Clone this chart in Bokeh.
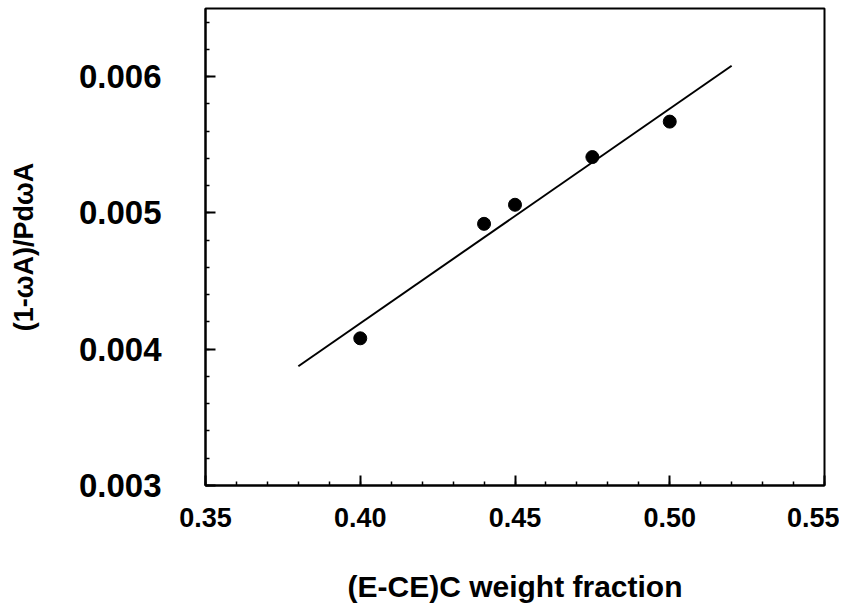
from bokeh.plotting import figure
from bokeh.models import FixedTicker, Range1d
from bokeh.embed import file_html
from bokeh.resources import INLINE

# data
frac = [0.40, 0.44, 0.45, 0.475, 0.50]
ratio = [0.00408, 0.00492, 0.00506, 0.00541, 0.00567]
fit_x = [0.38, 0.52]
fit_y = [0.003875, 0.00608]

x_ticks = [0.35, 0.40, 0.45, 0.50, 0.55]
x_tick_labels = ["0.35", "0.40", "0.45", "0.50", "0.55"]
x_minor = [0.35 + 0.01 * i for i in range(21)]
y_ticks = [0.003, 0.004, 0.005, 0.006]
y_tick_labels = ["0.003", "0.004", "0.005", "0.006"]
y_minor = [0.003 + 0.0002 * i for i in range(18)]

FONT = "Liberation Sans"

p = figure(width=839, height=605, output_backend="svg", toolbar_location=None,
           x_range=Range1d(0.35, 0.55), y_range=Range1d(0.003, 0.0065),
           min_border_left=205, min_border_right=15, min_border_top=8, min_border_bottom=118)
p.background_fill_color = "white"
p.border_fill_color = "white"
p.outline_line_color = "black"
p.outline_line_width = 2
p.xgrid.visible = False
p.ygrid.visible = False

p.line(fit_x, fit_y, line_color="black", line_width=2)
p.scatter(frac, ratio, size=13, color="black")

xa = p.xaxis[0]
xa.ticker = FixedTicker(ticks=x_ticks, minor_ticks=x_minor)
xa.major_label_overrides = {t: l for t, l in zip(x_ticks, x_tick_labels)}
ya = p.yaxis[0]
ya.ticker = FixedTicker(ticks=y_ticks, minor_ticks=y_minor)
ya.major_label_overrides = {t: l for t, l in zip(y_ticks, y_tick_labels)}

for ax in (xa, ya):
    ax.axis_line_color = "black"
    ax.axis_line_width = 2
    ax.major_tick_in = 10
    ax.major_tick_out = 0
    ax.minor_tick_in = 4
    ax.minor_tick_out = 0
    ax.major_tick_line_width = 2
    ax.minor_tick_line_width = 1.5
    ax.major_tick_line_color = "black"
    ax.minor_tick_line_color = "black"
    ax.major_label_text_font = FONT
    ax.major_label_text_font_style = "bold"
    ax.major_label_text_color = "black"
    ax.axis_label_text_font = FONT
    ax.axis_label_text_font_style = "bold"
    ax.axis_label_text_color = "black"

xa.major_label_text_font_size = "27px"
xa.major_label_standoff = 22
xa.axis_label = "(E-CE)C weight fraction"
xa.axis_label_text_font_size = "30px"
xa.axis_label_standoff = 40

ya.major_label_text_font_size = "33px"
ya.major_label_standoff = 44
ya.axis_label = "(1-ωA)/PdωA"
ya.axis_label_text_font_size = "27px"
ya.axis_label_standoff = 37

open("out.html", "w").write(file_html(p, INLINE))
